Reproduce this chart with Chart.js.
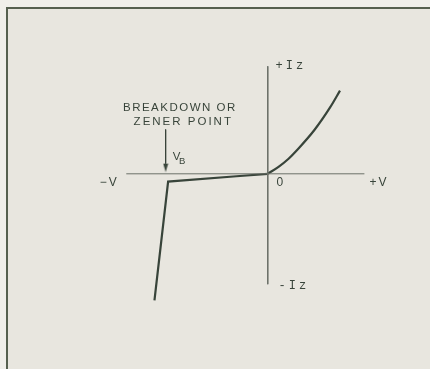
<!DOCTYPE html>
<html lang="en">
<head>
    <meta charset="UTF-8">
    <title>Zener diode characteristic</title>
    <style>
        body {
            margin: 0;
            background-color: #f0efea;
        }

        .page {
            position: relative;
            width: 430px;
            height: 369px;
            overflow: hidden;
        }

        /* scanned frame: only top and left edges show */
        .frame {
            position: absolute;
            left: 6px;
            top: 7px;
            right: -4px;
            bottom: -4px;
            background-color: #e8e6df;
            border-left: 2px solid #56604f;
            border-top: 2px solid #56604f;
        }

        .plot {
            position: absolute;
            left: 0;
            top: 0;
            width: 430px;
            height: 369px;
        }
    </style>
</head>
<body>
    <div class="page">
        <div class="frame"></div>
        <div class="plot">
            <canvas id="zener"></canvas>
        </div>
    </div>

    <script src="https://cdn.jsdelivr.net/npm/chart.js"></script>
    <script>
        // forward branch (V, Iz)
        const forwardV = [0, 1.08, 2.06, 3.04, 4.68, 6.27, 7.25];
        const forwardI = [0, 0.71, 1.52, 2.55, 4.5, 6.85, 8.55];

        // reverse branch, breakdown knee at VB
        const reverseV = [0, -3.14, -10.0, -11.37];
        const reverseI = [0, -0.25, -0.8, -13.0];

        // axes through the origin
        const axisH = { v: [-14.2, 9.7], i: [0, 0] };
        const axisV = { v: [0, 0], i: [11.05, -11.35] };

        // arrow pointing at the breakdown point
        const arrowV = [-10.25, -10.25];
        const arrowI = [4.55, 1.05];

        // text labels
        const labelText = ['+Iz', '-Iz', '−V', '+V', '0', 'BREAKDOWN OR', 'ZENER POINT', 'V', 'B'];
        const labelV = [0.78, 1.08, -16.86, 10.2, 0.88, -8.82, -8.48, -9.54, -8.92];
        const labelI = [11.05, -11.55, -0.95, -0.95, -0.95, 6.75, 5.35, 1.75, 1.3];
        const labelAlign = ['left', 'left', 'left', 'left', 'left', 'center', 'center', 'left', 'left'];
        const labelFont = [
            '12px "Liberation Mono"', '12px "Liberation Mono"',
            '12px "Liberation Sans"', '12px "Liberation Sans"', '12px "Liberation Sans"',
            '11.5px "Liberation Sans"', '11.5px "Liberation Sans"',
            '11.5px "Liberation Sans"', '9.5px "Liberation Sans"'
        ];
        const labelSpacing = ['3px', '3px', '2px', '2px', '0px', '1.5px', '2px', '0px', '0px'];

        const ink = '#38443a';

        const toPoints = (xs, ys) => xs.map((x, k) => ({ x: x, y: ys[k] }));

        // narrow arrowhead used as point style
        const head = document.createElement('canvas');
        head.width = 6;
        head.height = 18;
        const hctx = head.getContext('2d');
        hctx.fillStyle = ink;
        hctx.beginPath();
        hctx.moveTo(0.5, 9);
        hctx.lineTo(5.5, 9);
        hctx.lineTo(3, 17.5);
        hctx.closePath();
        hctx.fill();

        const labelPlugin = {
            id: 'labels',
            afterDatasetsDraw(chart) {
                const ctx = chart.ctx;
                const xs = chart.scales.x;
                const ys = chart.scales.y;
                ctx.save();
                ctx.fillStyle = ink;
                ctx.textBaseline = 'middle';
                labelText.forEach((t, k) => {
                    ctx.font = labelFont[k];
                    ctx.textAlign = labelAlign[k];
                    ctx.letterSpacing = labelSpacing[k];
                    ctx.fillText(t, xs.getPixelForValue(labelV[k]), ys.getPixelForValue(labelI[k]));
                });
                ctx.restore();
            }
        };

        const ctx = document.getElementById('zener').getContext('2d');
        const chart = new Chart(ctx, {
            type: 'scatter',
            data: {
                datasets: [
                    {
                        data: toPoints(axisH.v, axisH.i),
                        showLine: true,
                        borderColor: '#6b7169',
                        borderWidth: 1,
                        pointRadius: 0
                    },
                    {
                        data: toPoints(axisV.v, axisV.i),
                        showLine: true,
                        borderColor: '#6b7169',
                        borderWidth: 1,
                        pointRadius: 0
                    },
                    {
                        data: toPoints(reverseV, reverseI),
                        showLine: true,
                        borderColor: ink,
                        borderWidth: 2.2,
                        pointRadius: 0,
                        tension: 0
                    },
                    {
                        data: toPoints(forwardV, forwardI),
                        showLine: true,
                        borderColor: ink,
                        borderWidth: 2.2,
                        pointRadius: 0,
                        cubicInterpolationMode: 'monotone'
                    },
                    {
                        data: toPoints(arrowV, arrowI),
                        showLine: true,
                        borderColor: ink,
                        borderWidth: 1,
                        pointStyle: [false, head],
                        pointRadius: [0, 4]
                    }
                ]
            },
            options: {
                responsive: true,
                maintainAspectRatio: false,
                animation: false,
                layout: { padding: 0 },
                plugins: {
                    legend: { display: false },
                    tooltip: { enabled: false }
                },
                scales: {
                    x: { type: 'linear', min: -26.37, max: 15.78, display: false },
                    y: { type: 'linear', min: -19.55, max: 17.35, display: false }
                }
            },
            plugins: [labelPlugin]
        });
    </script>
</body>
</html>
